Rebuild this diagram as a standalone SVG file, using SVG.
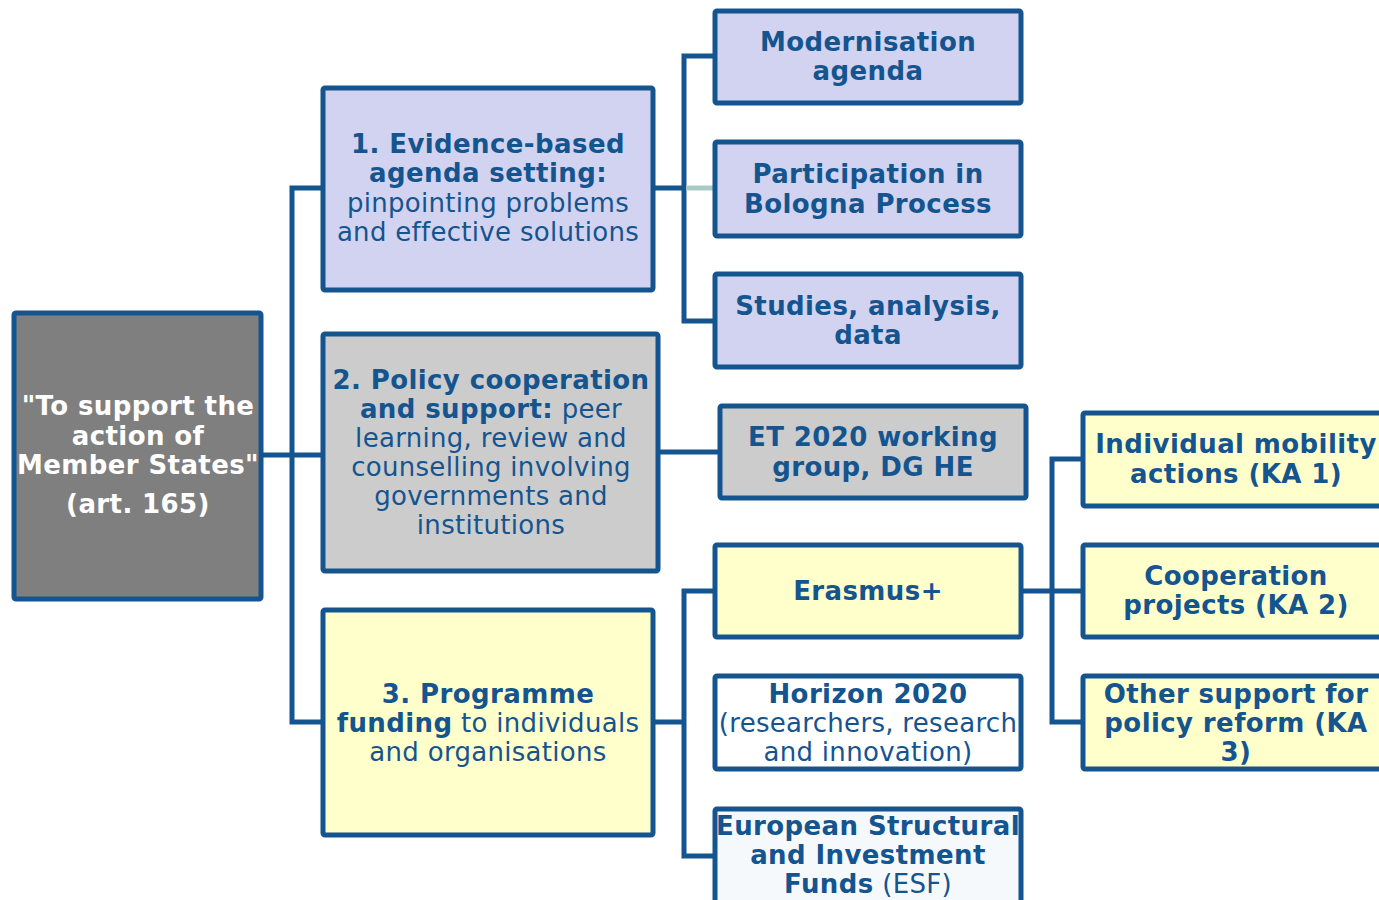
<svg xmlns="http://www.w3.org/2000/svg" width="1379" height="900" viewBox="0 0 1379 900">
<style>
.b{stroke:#14548f;stroke-width:5;}
.t{font-family:"DejaVu Sans",Verdana,sans-serif;font-size:26px;fill:#14548f;text-anchor:middle;letter-spacing:0.3px;}
.bd{font-weight:bold;letter-spacing:0.4px;}
.w{fill:#ffffff;}
.c{fill:none;stroke:#14548f;stroke-width:5;stroke-linejoin:miter;}
</style>
<rect width="1379" height="900" fill="#ffffff"/>
<g id="connectors">
<path class="c" d="M262,455 H292 M322,188 H292 V722 H322 M292,455 H322"/>
<path class="c" d="M654,188 H684 M714,56 H684 V321 H714"/>
<path d="M686,188 H714" fill="none" stroke="#a9cbc8" stroke-width="5"/>
<path class="c" d="M659,452 H719"/>
<path class="c" d="M654,722 H684 M714,591 H684 V856 H714"/>
<path class="c" d="M1022,591 H1082 M1082,459 H1052 V722 H1082"/>
</g>
<g id="root">
<rect class="b" x="14" y="313" width="247" height="286" rx="2" fill="#7f7f7f"/>
<text class="t bd w" x="138" y="415">"To support the</text>
<text class="t bd w" x="138" y="445">action of</text>
<text class="t bd w" x="138" y="474">Member States"</text>
<text class="t bd w" x="138" y="513">(art. 165)</text>
</g>
<g id="n1">
<rect class="b" x="323" y="88" width="330" height="202" rx="2" fill="#d1d3f0"/>
<text class="t bd" x="488" y="153">1. Evidence-based</text>
<text class="t bd" x="488" y="182">agenda setting:</text>
<text class="t" x="488" y="212">pinpointing problems</text>
<text class="t" x="488" y="241">and effective solutions</text>
</g>
<g id="n2">
<rect class="b" x="323" y="334" width="335" height="237" rx="2" fill="#cccccc"/>
<text class="t bd" x="491" y="389">2. Policy cooperation</text>
<text class="t" x="491" y="418"><tspan class="bd">and support:</tspan> peer</text>
<text class="t" x="491" y="447">learning, review and</text>
<text class="t" x="491" y="476">counselling involving</text>
<text class="t" x="491" y="505">governments and</text>
<text class="t" x="491" y="534">institutions</text>
</g>
<g id="n3">
<rect class="b" x="323" y="610" width="330" height="225" rx="2" fill="#ffffcc"/>
<text class="t bd" x="488" y="703">3. Programme</text>
<text class="t" x="488" y="732"><tspan class="bd">funding</tspan> to individuals</text>
<text class="t" x="488" y="761">and organisations</text>
</g>
<g id="modernisation">
<rect class="b" x="715" y="11" width="306" height="92" rx="2" fill="#d1d3f0"/>
<text class="t bd" x="868" y="51">Modernisation</text>
<text class="t bd" x="868" y="80">agenda</text>
</g>
<g id="bologna">
<rect class="b" x="715" y="142" width="306" height="94" rx="2" fill="#d1d3f0"/>
<text class="t bd" x="868" y="183">Participation in</text>
<text class="t bd" x="868" y="213">Bologna Process</text>
</g>
<g id="studies">
<rect class="b" x="715" y="274" width="306" height="93" rx="2" fill="#d1d3f0"/>
<text class="t bd" x="868" y="315">Studies, analysis,</text>
<text class="t bd" x="868" y="344">data</text>
</g>
<g id="et2020">
<rect class="b" x="720" y="406" width="306" height="92" rx="2" fill="#cccccc"/>
<text class="t bd" x="873" y="446">ET 2020 working</text>
<text class="t bd" x="873" y="476">group, DG HE</text>
</g>
<g id="erasmus">
<rect class="b" x="715" y="545" width="306" height="92" rx="2" fill="#ffffcc"/>
<text class="t bd" x="868" y="600">Erasmus+</text>
</g>
<g id="horizon">
<rect class="b" x="715" y="676" width="306" height="93" rx="2" fill="#ffffff"/>
<text class="t bd" x="868" y="703">Horizon 2020</text>
<text class="t" x="868" y="732">(researchers, research</text>
<text class="t" x="868" y="761">and innovation)</text>
</g>
<g id="esf">
<rect class="b" x="715" y="809" width="306" height="100" rx="2" fill="#f5f9fc"/>
<text class="t bd" x="868" y="835">European Structural</text>
<text class="t bd" x="868" y="864">and Investment</text>
<text class="t" x="868" y="893"><tspan class="bd">Funds</tspan> (ESF)</text>
</g>
<g id="ka1">
<rect class="b" x="1083" y="413" width="306" height="93" rx="2" fill="#ffffcc"/>
<text class="t bd" x="1236" y="453">Individual mobility</text>
<text class="t bd" x="1236" y="483">actions (KA 1)</text>
</g>
<g id="ka2">
<rect class="b" x="1083" y="545" width="306" height="92" rx="2" fill="#ffffcc"/>
<text class="t bd" x="1236" y="585">Cooperation</text>
<text class="t bd" x="1236" y="614">projects (KA 2)</text>
</g>
<g id="ka3">
<rect class="b" x="1083" y="676" width="306" height="93" rx="2" fill="#ffffcc"/>
<text class="t bd" x="1236" y="703">Other support for</text>
<text class="t bd" x="1236" y="732">policy reform (KA</text>
<text class="t bd" x="1236" y="761">3)</text>
</g>
</svg>
